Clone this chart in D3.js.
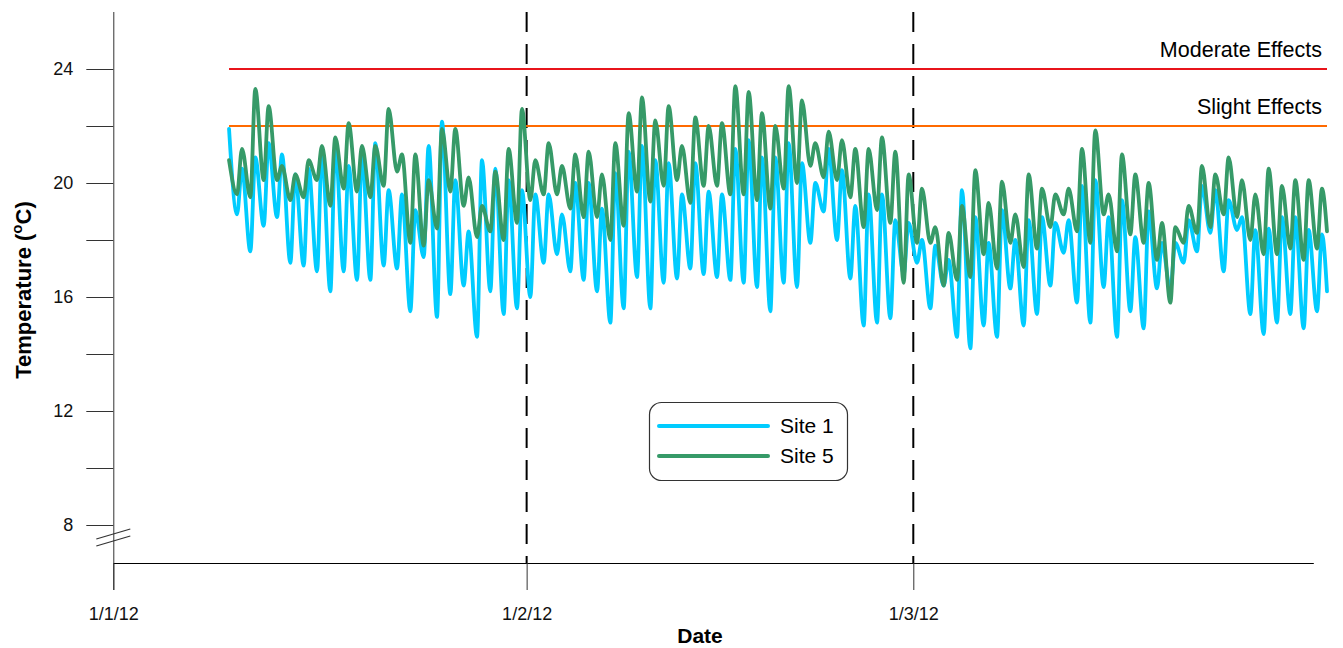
<!DOCTYPE html>
<html>
<head>
<meta charset="utf-8">
<script src="https://cdn.jsdelivr.net/npm/d3@7"></script>
<style>
  html, body { margin: 0; padding: 0; background: #fff; }
  svg { display: block; font-family: "Liberation Sans", Arial, sans-serif; }
</style>
</head>
<body>
<svg id="chart" width="1343" height="648"></svg>
<script>
// ---------------- DATA ----------------
const firstDay = "2012-01-10";            // first full day of record
const seriesStart = "2012-01-09T16:20";   // first reading
const seriesEnd = "2012-04-01T00:40";     // last reading
const minHour = 6.7;                      // typical time of daily minimum
const maxHour = 15.6;                     // typical time of daily maximum

const seriesNames = ["Site 1", "Site 5"];
const site1StartEnd = [21.9, 16.2];
const site5StartEnd = [20.8, 18.3];

const site1Min = [18.9,17.6,18.5,18.8,17.2,17.1,16.9,16.2,16.9,16.6,16.6,17.1,17.0,15.5,17.4,15.3,16.1,16.4,14.6,16.2,
  15.4,15.6,16.0,17.2,17.5,16.9,16.6,16.2,15.1,15.6,16.7,15.6,16.5,16.65,17.0,16.8,16.7,16.6,16.5,16.35,
  15.5,16.5,16.35,17.9,19.0,18.0,16.65,15.0,15.1,15.25,16.8,17.2,15.6,16.4,14.6,14.2,15.0,14.6,16.3,15.0,
  15.4,16.4,17.55,15.8,15.1,16.35,14.6,15.5,14.9,16.3,16.25,17.2,17.6,18.25,16.9,18.35,15.4,14.7,15.1,15.4,
  14.9,15.5];
const site1Max = [20.5,20.9,21.4,21.0,20.3,20.5,21.1,21.3,20.6,21.0,21.4,19.75,19.6,19.05,21.3,22.15,20.1,18.3,20.8,20.5,
  20.1,19.75,19.6,19.6,18.9,20.0,20.0,19.1,20.35,21.1,21.3,20.8,20.7,19.6,20.7,19.7,19.6,21.2,21.5,20.9,
  20.9,21.4,20.7,20.0,21.2,20.45,19.2,19.6,19.6,18.7,18.6,18.0,17.8,17.3,19.75,18.8,17.9,19.05,18.0,18.7,
  18.8,18.6,18.7,19.9,20.1,18.8,19.4,18.1,19.0,17.9,17.9,18.7,19.9,19.75,19.4,18.8,18.35,18.4,18.8,18.8,
  18.35,18.2];
const site5Min = [19.6,19.5,20.1,20.1,19.4,19.5,20.1,19.2,19.8,19.7,19.5,19.9,20.4,17.9,17.8,18.4,19.7,19.2,18.1,18.3,
  18.0,18.6,19.4,19.6,19.6,19.1,18.8,18.8,18.0,18.5,19.7,19.35,19.9,20.1,19.3,19.9,19.9,19.6,19.6,19.4,
  19.1,19.8,20.0,20.6,20.2,20.1,19.5,18.45,19.05,18.6,16.5,17.9,17.9,16.4,16.6,16.7,17.5,17.0,17.9,17.05,
  17.7,18.45,18.9,18.3,17.9,18.9,17.6,18.2,17.9,17.3,15.8,17.9,18.25,18.45,18.9,18.8,18.0,17.5,17.5,17.7,
  17.3,17.7];
const site5Max = [21.2,23.3,22.7,20.6,20.3,20.8,21.3,21.6,22.1,21.3,21.3,22.6,21.0,21.0,20.1,21.9,21.9,20.2,19.2,20.4,
  21.2,22.6,20.8,21.4,20.6,21.0,21.1,20.3,21.4,22.45,23.0,22.2,22.7,21.3,22.3,22.0,22.1,23.4,23.2,22.45,
  22.0,23.4,22.9,21.4,21.8,21.5,21.2,21.2,21.6,21.1,20.3,19.8,18.45,18.25,19.2,20.45,19.3,20.05,18.9,20.3,
  19.8,19.6,19.8,21.2,21.85,19.6,21.0,20.3,20.0,18.6,18.45,19.2,20.6,20.3,20.9,20.1,19.6,20.5,19.9,20.1,
  20.1,19.8];

const thresholdNames = ["Moderate Effects", "Slight Effects"];
const thresholdValues = [24, 22];

const xTickDates = ["2012-01-01", "2012-02-01", "2012-03-01"];
const xTickLabels = ["1/1/12", "1/2/12", "1/3/12"];
const monthMarkers = ["2012-02-01", "2012-03-01"];
const yTickValues = [8, 10, 12, 14, 16, 18, 20, 22, 24];
const yLabelValues = [8, 12, 16, 20, 24];

// ---------------- STYLE ----------------
const colors = { site1: "#00CCFF", site5: "#369A68", moderate: "#E8141B", slight: "#FF6A00" };

// ---------------- BUILD ----------------
const parse = s => new Date(s + (s.length > 10 ? ":00Z" : "T00:00:00Z"));
const DAY = 864e5;

function buildSeries(mins, maxs, startEnd) {
  const t0 = parse(firstDay).getTime();
  const pts = [{ t: parse(seriesStart), v: startEnd[0] }];
  mins.forEach((m, i) => {
    pts.push({ t: new Date(t0 + i * DAY + minHour * 36e5), v: m });
    pts.push({ t: new Date(t0 + i * DAY + maxHour * 36e5), v: maxs[i] });
  });
  pts.push({ t: parse(seriesEnd), v: startEnd[1] });
  return pts;
}
const s1 = buildSeries(site1Min, site1Max, site1StartEnd);
const s5 = buildSeries(site5Min, site5Max, site5StartEnd);

const svg = d3.select("#chart");

const x = d3.scaleUtc()
  .domain([parse("2012-01-01"), parse("2012-03-31")])
  .range([113.3, 1313.3]);
const y = d3.scaleLinear().domain([8, 24]).range([525, 69]);

const axisTop = y(26);
const xAxisY = 563;
const axisBottom = 590;

// month dashed lines
svg.append("g").selectAll("line").data(monthMarkers).join("line")
  .attr("x1", d => x(parse(d))).attr("x2", d => x(parse(d)))
  .attr("y1", axisTop).attr("y2", xAxisY)
  .attr("stroke", "#000").attr("stroke-width", 2).attr("stroke-dasharray", "20,12");

// threshold lines
const tStart = parse(seriesStart), tEnd = parse(seriesEnd);
const thr = svg.append("g");
thresholdValues.forEach((v, i) => {
  thr.append("line")
    .attr("x1", x(tStart)).attr("x2", x(tEnd))
    .attr("y1", y(v)).attr("y2", y(v))
    .attr("stroke", i === 0 ? colors.moderate : colors.slight)
    .attr("stroke-width", 1.8);
  thr.append("text")
    .attr("x", x(tEnd) - 5).attr("y", y(v) - 12)
    .attr("text-anchor", "end")
    .attr("font-size", 21.5)
    .attr("fill", "#000")
    .text(thresholdNames[i]);
});

// data lines
const line = d3.line().x(d => x(d.t)).y(d => y(d.v)).curve(d3.curveMonotoneX);
svg.append("path").datum(s1).attr("d", line)
  .attr("fill", "none").attr("stroke", colors.site1).attr("stroke-width", 3.8)
  .attr("stroke-linejoin", "round").attr("stroke-linecap", "round");
svg.append("path").datum(s5).attr("d", line)
  .attr("fill", "none").attr("stroke", colors.site5).attr("stroke-width", 3.8)
  .attr("stroke-linejoin", "round").attr("stroke-linecap", "round");

// y axis
const yAxis = d3.axisLeft(y).tickValues(yTickValues).tickSize(27).tickPadding(13)
  .tickFormat(d => yLabelValues.includes(d) ? d : "");
const gy = svg.append("g").attr("transform", `translate(${x(parse("2012-01-01"))},0)`).call(yAxis);
gy.select(".domain").remove();
gy.selectAll(".tick line").attr("stroke", "#333");
gy.selectAll("text").attr("font-size", 18).attr("fill", "#111").attr("font-family", "Liberation Sans, Arial, sans-serif");
gy.append("line").attr("x1", 0.5).attr("x2", 0.5).attr("y1", axisTop).attr("y2", axisBottom).attr("stroke", "#333");
// axis break marks
const by = y(8) + 10;
[0, 7].forEach(o => {
  gy.append("line").attr("x1", -17).attr("x2", 17)
    .attr("y1", by + o + 4).attr("y2", by + o - 6)
    .attr("stroke", "#333").attr("stroke-width", 1.2);
});

// x axis
const xAxis = d3.axisBottom(x).tickValues(xTickDates.map(parse)).tickSize(27).tickSizeOuter(0).tickPadding(17)
  .tickFormat((d, i) => xTickLabels[i]);
const gx = svg.append("g").attr("transform", `translate(0,${xAxisY})`).call(xAxis);
gx.select(".domain").attr("stroke", "#000");
gx.selectAll(".tick line").attr("stroke", "#333");
gx.selectAll("text").attr("font-size", 18).attr("fill", "#111").attr("font-family", "Liberation Sans, Arial, sans-serif");

// axis titles
svg.append("text").attr("x", 700).attr("y", 643).attr("text-anchor", "middle")
  .attr("font-size", 21).attr("font-weight", "bold").text("Date");
const yt = svg.append("text").attr("transform", "translate(31,290) rotate(-90)")
  .attr("text-anchor", "middle").attr("font-size", 22).attr("font-weight", "bold");
yt.append("tspan").text("Temperature (");
yt.append("tspan").attr("font-size", 15).attr("dy", -9).text("o");
yt.append("tspan").attr("dy", 9).text("C)");

// legend
const lg = svg.append("g").attr("transform", "translate(649,402)");
lg.append("rect").attr("x", 0.5).attr("y", 0.5).attr("width", 198).attr("height", 78).attr("rx", 12)
  .attr("fill", "#fff").attr("stroke", "#333").attr("stroke-width", 1.2);
[colors.site1, colors.site5].forEach((c, i) => {
  lg.append("line").attr("x1", 10).attr("x2", 119).attr("y1", 24 + i * 30).attr("y2", 24 + i * 30)
    .attr("stroke", c).attr("stroke-width", 4).attr("stroke-linecap", "round");
  lg.append("text").attr("x", 131).attr("y", 31 + i * 30).attr("font-size", 21).attr("fill", "#000")
    .text(seriesNames[i]);
});
</script>
</body>
</html>
